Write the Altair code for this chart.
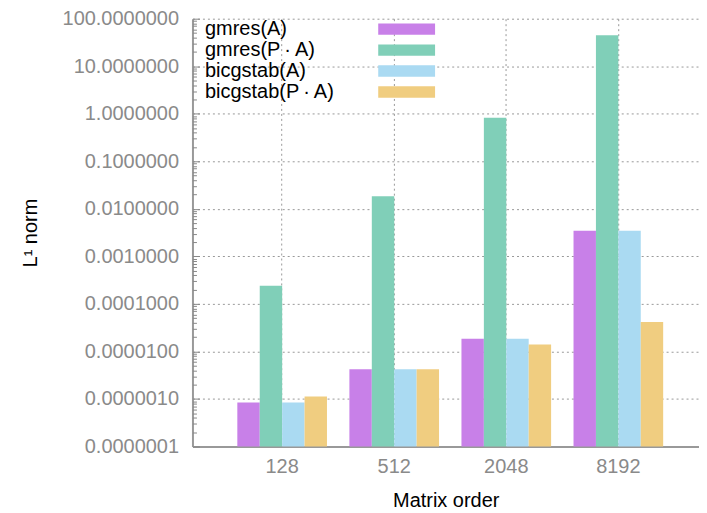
import altair as alt
import pandas as pd

orders = ["128", "512", "2048", "8192"]
series = ["gmres(A)", "gmres(P\u2009\u00b7\u2009A)", "bicgstab(A)", "bicgstab(P\u2009\u00b7\u2009A)"]
gmres_a = [8.4e-7, 4.2e-6, 1.85e-5, 3.46e-3]
gmres_pa = [2.41e-4, 1.83e-2, 0.82, 44.7]
bicgstab_a = [8.4e-7, 4.2e-6, 1.85e-5, 3.46e-3]
bicgstab_pa = [1.12e-6, 4.2e-6, 1.39e-5, 4.15e-5]
colors = ["#C880E8", "#80CFB8", "#AADAF2", "#F0CD80"]
decades = [1e-7, 1e-6, 1e-5, 1e-4, 1e-3, 1e-2, 1e-1, 1, 10, 100]
minor = [m * d for d in decades[:-1] for m in range(1, 10)] + [100]

rows = []
for s, vals in zip(series, [gmres_a, gmres_pa, bicgstab_a, bicgstab_pa]):
    for o, v in zip(orders, vals):
        rows.append({"order": o, "series": s, "value": v})
df = pd.DataFrame(rows)

W, H = 508, 429
FONT = "Liberation Sans"
GRAY = "#8a8a8a"

xenc = alt.X("order:N", sort=orders, title="Matrix order",
             scale=alt.Scale(paddingInner=0.2, paddingOuter=0.36, align=0.556),
             axis=alt.Axis(labelAngle=0, labelColor=GRAY, labelFontSize=20, labelPadding=10,
                           titleFontSize=20, titleFontWeight="normal", titleColor="black",
                           titlePadding=14, ticks=False, domainColor="#999999", domainWidth=2,
                           grid=True, gridDash=[2, 3], gridColor="#999999", gridWidth=1,
                           bandPosition=0.5))
yscale = alt.Scale(type="log", domain=[1e-7, 100], nice=False)

bars = alt.Chart(df).mark_bar().encode(
    x=xenc,
    xOffset=alt.XOffset("series:N", sort=series),
    y=alt.Y("value:Q", scale=yscale, title="L\u00b9 norm", stack=None,
            axis=alt.Axis(values=decades, format=".7f", labelColor=GRAY, labelFontSize=20,
                          labelPadding=14, ticks=False, domainColor="#999999", domainWidth=2,
                          grid=True, gridDash=[2, 3], gridColor="#999999", gridWidth=1,
                          titleFontSize=20, titleFontWeight="normal", titleColor="black",
                          titlePadding=22)),
    color=alt.Color("series:N", sort=series,
                    scale=alt.Scale(domain=series, range=colors),
                    legend=alt.Legend(title=None, orient="none", legendX=4, legendY=0.5,
                                      labelFontSize=20, labelColor="black",
                                      symbolType="M-5,-1H5V1H-5Z", symbolSize=130,
                                      symbolStrokeWidth=0, symbolOffset=200.8,
                                      labelOffset={"expr": "-212.2"},
                                      rowPadding=1, padding=0)),
)

ticks = alt.Chart(pd.DataFrame({"value": minor})).mark_point(opacity=0).encode(
    y=alt.Y("value:Q", scale=yscale,
            axis=alt.Axis(orient="right", offset=-W, values=minor, labels=False, grid=False,
                          domain=False, title=None, tickColor="#888888", tickWidth=1,
                          tickSize={"condition": {"test": "abs(log(datum.value)/LN10 - round(log(datum.value)/LN10)) < 0.001", "value": 7}, "value": 4})),
)

chart = alt.layer(bars, ticks).resolve_axis(y="independent").properties(
    width=W, height=H,
    autosize=alt.AutoSizeParams(type="none"),
    padding={"left": 185, "top": 10, "right": 0, "bottom": 66},
).configure(font=FONT).configure_view(stroke=None)

chart.save("out.html", embed_options={"renderer": "svg", "actions": False})
